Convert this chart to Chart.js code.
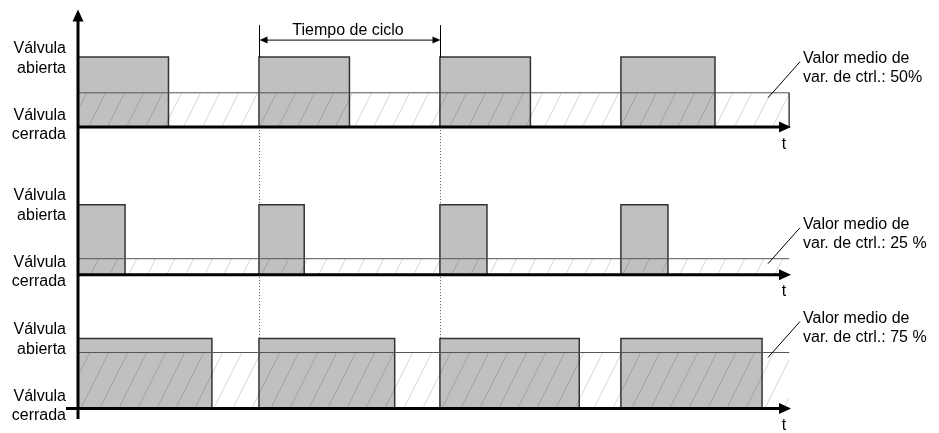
<!DOCTYPE html>
<html>
<head>
<meta charset="utf-8">
<script src="https://cdn.jsdelivr.net/npm/chart.js@4"></script>
<style>
  html, body { margin: 0; padding: 0; background: #fff; }
  #wrap { width: 939px; height: 433px; }
</style>
</head>
<body>
<div id="wrap"><canvas id="pwmChart"></canvas></div>
<script>
// --------------------- DATA (time in cycles, level relative to closed valve) ------------------------
const panelBase = [4.02, 1.91, 0];          // closed level of each trace
const openLevel = 1;                        // valve open
const meanLevel = [0.49, 0.23, 0.80];       // drawn average of the control variable
const pulseOn = [0, 1, 2, 3];               // start of each cycle
const pulseOff = [
    [0.50, 1.50, 2.50, 3.52],
    [0.26, 1.25, 2.26, 3.26],
    [0.74, 1.75, 2.77, 3.78]
];
const meanBoxClosed = [true, false, false];
const timeEnd = 3.93;
const axisEnd = 3.94;
const cycleMarks = [1, 2];
const meanTitle = 'Valor medio de';
const meanText = ['var. de ctrl.: 50%', 'var. de ctrl.: 25 %', 'var. de ctrl.: 75 %'];
const openText = ['Válvula', 'abierta'];
const closedText = ['Válvula', 'cerrada'];
const cycleText = 'Tiempo de ciclo';
const timeText = 't';

const FONT = '16px "Liberation Sans", Arial, sans-serif';

// --------------------- BUILD POINTS ------------------------
function signalPoints(p) {
    let b = panelBase[p];
    let pts = [];
    for (let i = 0; i < pulseOn.length; i++) {
        pts.push({ x: pulseOn[i], y: b });
        pts.push({ x: pulseOn[i], y: b + openLevel });
        pts.push({ x: pulseOff[p][i], y: b + openLevel });
        pts.push({ x: pulseOff[p][i], y: b });
    }
    pts.push({ x: timeEnd, y: b });
    return pts;
}

function meanPoints(p) {
    let b = panelBase[p];
    let m = b + meanLevel[p];
    let pts = [{ x: 0, y: m }, { x: timeEnd, y: m }];
    if (meanBoxClosed[p]) pts.push({ x: timeEnd, y: b });
    return pts;
}

// --------------------- HATCH PATTERN ------------------------
const canvas = document.getElementById('pwmChart');
const ctx = canvas.getContext('2d');

function makeHatch() {
    let c = document.createElement('canvas');
    c.width = 19;
    c.height = 38;
    let g = c.getContext('2d');
    g.strokeStyle = 'rgba(0,0,0,0.16)';
    g.lineWidth = 1;
    for (let k = -1; k <= 1; k++) {
        g.beginPath();
        g.moveTo(k * 19, 38);
        g.lineTo(k * 19 + 19, 0);
        g.stroke();
    }
    return ctx.createPattern(c, 'repeat');
}
const hatch = makeHatch();

let datasets = [];
for (let p = 0; p < panelBase.length; p++) {
    datasets.push({
        data: meanPoints(p),
        order: 0,
        borderColor: '#555',
        borderWidth: 1,
        backgroundColor: hatch,
        fill: { value: panelBase[p] },
        pointRadius: 0,
        tension: 0
    });
    datasets.push({
        data: signalPoints(p),
        order: 1,
        borderColor: '#333',
        borderWidth: 1.5,
        backgroundColor: '#c0c0c0',
        fill: { value: panelBase[p] },
        pointRadius: 0,
        tension: 0
    });
}

// --------------------- HELPERS ------------------------
function arrowHead(c, x, y, dir, len, half) {
    c.beginPath();
    if (dir === 'right') { c.moveTo(x, y); c.lineTo(x - len, y - half); c.lineTo(x - len, y + half); }
    if (dir === 'left')  { c.moveTo(x, y); c.lineTo(x + len, y - half); c.lineTo(x + len, y + half); }
    if (dir === 'up')    { c.moveTo(x, y); c.lineTo(x - half, y + len); c.lineTo(x + half, y + len); }
    c.closePath();
    c.fill();
}

function line(c, x1, y1, x2, y2) {
    c.beginPath();
    c.moveTo(x1, y1);
    c.lineTo(x2, y2);
    c.stroke();
}

// --------------------- DOTTED CYCLE MARKS (behind) ------------------------
const cycleLines = {
    id: 'cycleLines',
    beforeDatasetsDraw(chart) {
        let c = chart.ctx, xs = chart.scales.x, ys = chart.scales.y;
        c.save();
        c.strokeStyle = '#555';
        c.lineWidth = 1;
        c.setLineDash([1, 2]);
        cycleMarks.forEach(t => {
            let x = Math.round(xs.getPixelForValue(t)) + 0.5;
            line(c, x, ys.getPixelForValue(panelBase[0]), x, ys.getPixelForValue(panelBase[2] + openLevel));
        });
        c.restore();
    }
};

// --------------------- AXES, ARROWS, TEXT ------------------------
const decorations = {
    id: 'decorations',
    afterDatasetsDraw(chart) {
        let c = chart.ctx, xs = chart.scales.x, ys = chart.scales.y;
        let x0 = xs.getPixelForValue(0);
        let xEnd = xs.getPixelForValue(axisEnd);
        c.save();
        c.fillStyle = '#000';
        c.strokeStyle = '#000';

        // vertical axis
        c.lineWidth = 3;
        line(c, x0, ys.bottom, x0, ys.top + 8);
        arrowHead(c, x0, ys.top, 'up', 12, 5.5);

        // time axes
        panelBase.forEach((b, p) => {
            let y = ys.getPixelForValue(b);
            let start = p === panelBase.length - 1 ? x0 - 12 : x0;
            c.lineWidth = 3;
            line(c, start, y, xEnd - 8, y);
            arrowHead(c, xEnd, y, 'right', 12, 5.5);
        });

        // cycle time bracket
        let ya = ys.getPixelForValue(panelBase[0] + openLevel);
        let xa = Math.round(xs.getPixelForValue(cycleMarks[0])) + 0.5;
        let xb = Math.round(xs.getPixelForValue(cycleMarks[1])) + 0.5;
        c.lineWidth = 1;
        line(c, xa, ya - 32, xa, ya);
        line(c, xb, ya - 32, xb, ya);
        line(c, xa + 6, ya - 17, xb - 6, ya - 17);
        arrowHead(c, xa, ya - 17, 'left', 8, 3.5);
        arrowHead(c, xb, ya - 17, 'right', 8, 3.5);

        c.font = FONT;
        c.textBaseline = 'middle';
        c.textAlign = 'center';
        c.fillText(cycleText, (xa + xb) / 2 - 2, ya - 27);

        panelBase.forEach((b, p) => {
            let yOpen = ys.getPixelForValue(b + openLevel);
            let yBase = ys.getPixelForValue(b);
            let yMean = ys.getPixelForValue(b + meanLevel[p]);

            // left labels
            c.textAlign = 'right';
            c.fillText(openText[0], x0 - 12, yOpen - 9);
            c.fillText(openText[1], x0 - 12, yOpen + 11);
            c.fillText(closedText[0], x0 - 12, yBase - 12);
            c.fillText(closedText[1], x0 - 12, yBase + 7);

            // time label
            c.textAlign = 'center';
            c.fillText(timeText, xEnd - 7, yBase + 17);

            // mean value callout
            c.lineWidth = 1;
            line(c, xs.right - 23, yMean + 5, xs.right + 9, yMean - 31);
            c.textAlign = 'left';
            c.fillText(meanTitle, xs.right + 12, yMean - 34);
            c.fillText(meanText[p], xs.right + 12, yMean - 15);
        });
        c.restore();
    }
};

// --------------------- CHART ------------------------
let pwmChart = new Chart(ctx, {
    type: 'line',
    data: { datasets: datasets },
    options: {
        responsive: true,
        maintainAspectRatio: false,
        animation: false,
        events: [],
        layout: { padding: { left: 78, right: 148, top: 9.5, bottom: 14 } },
        scales: {
            x: { type: 'linear', min: 0, max: axisEnd, display: false },
            y: { type: 'linear', min: -0.15, max: 5.70, display: false }
        },
        plugins: {
            legend: { display: false },
            tooltip: { enabled: false }
        }
    },
    plugins: [cycleLines, decorations]
});
</script>
</body>
</html>
